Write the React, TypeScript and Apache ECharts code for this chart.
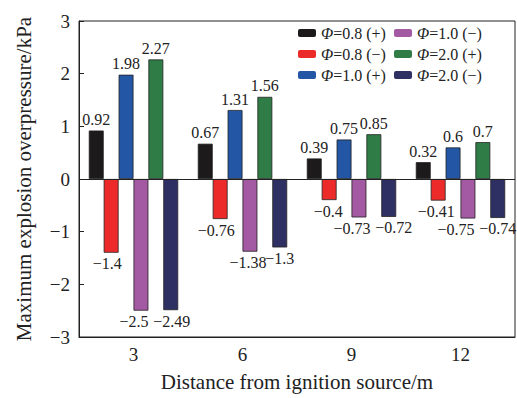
import React, { useEffect, useRef } from "react";
import * as echarts from "echarts";

const categories = ["3", "6", "9", "12"];
const seriesNames = ["Φ=0.8 (+)", "Φ=0.8 (−)", "Φ=1.0 (+)", "Φ=1.0 (−)", "Φ=2.0 (+)", "Φ=2.0 (−)"];
const phi08pos = [0.92, 0.67, 0.39, 0.32];
const phi08neg = [-1.4, -0.76, -0.4, -0.41];
const phi10pos = [1.98, 1.31, 0.75, 0.6];
const phi10neg = [-2.5, -1.38, -0.73, -0.75];
const phi20pos = [2.27, 1.56, 0.85, 0.7];
const phi20neg = [-2.49, -1.3, -0.72, -0.74];
const seriesValues = [phi08pos, phi08neg, phi10pos, phi10neg, phi20pos, phi20neg];
const colors = ["#1c1a1a", "#ec2a2a", "#2456a6", "#a35aa2", "#2f7c46", "#2e3063"];

// horizontal nudges of value labels (px), per series and category, as in the original
const labelNudge = [
  [0, 0, 0, 0],
  [-4, -4, -1, -2],
  [0, 0, 0, 0],
  [-7, -2, -7, -12],
  [0, 0, 0, 0],
  [1, 0, 5, 0],
];

const FONT = "'Liberation Serif', 'Times New Roman', serif";

const fmtNum = (v: number) => (v < 0 ? "\u2212" + String(-v) : String(v));

export default function App() {
  const ref = useRef<HTMLDivElement>(null);
  useEffect(() => {
    document.body.style.margin = "0";
    const chart = echarts.init(ref.current!, null, { renderer: "svg" });
    const series: any[] = seriesNames.map((name, i) => ({
      name,
      type: "bar",
      barGap: "0%",
      barCategoryGap: "18%",
      itemStyle: { color: colors[i], borderColor: "#222", borderWidth: 0.8 },
      label: {
        show: true,
        fontFamily: FONT,
        fontSize: 16,
        color: "#222",
        distance: 3,
        formatter: (p: any) => fmtNum(p.value),
      },
      data: seriesValues[i].map((v, j) => ({
        value: v,
        label: { position: v < 0 ? "bottom" : "top", offset: [labelNudge[i][j], 0] },
      })),
    }));
    series[0].markLine = {
      silent: true,
      symbol: "none",
      label: { show: false },
      lineStyle: { color: "#222", width: 1, type: "solid" },
      data: [{ yAxis: 0 }],
    };
    const legendText = {
      fontFamily: FONT,
      fontSize: 16,
      color: "#222",
      lineHeight: 16,
      rich: { i: { fontFamily: FONT, fontSize: 16, lineHeight: 16, fontStyle: "italic", color: "#222" } },
    };
    const legendFmt = (n: string) => "{i|Φ}" + n.slice(1);
    const legendBase = {
      orient: "vertical",
      top: 25,
      itemWidth: 18,
      itemHeight: 8,
      itemGap: 5,
      padding: 0,
      formatter: legendFmt,
      textStyle: legendText,
      itemStyle: { borderWidth: 0 },
    };
    chart.setOption({
      animation: false,
      backgroundColor: "#fff",
      grid: {
        left: 79,
        right: 2,
        top: 21,
        bottom: 61,
        show: true,
        borderColor: "#222",
        borderWidth: 1,
        backgroundColor: "transparent",
      },
      legend: [
        { ...legendBase, data: seriesNames.slice(0, 3), left: 298 },
        { ...legendBase, data: seriesNames.slice(3), left: 394 },
      ],
      xAxis: {
        type: "category",
        data: categories,
        name: "Distance from ignition source/m",
        nameLocation: "middle",
        nameGap: 34,
        nameTextStyle: { fontFamily: FONT, fontSize: 21, color: "#222" },
        axisLine: { onZero: false, lineStyle: { color: "#222", width: 1 } },
        axisTick: { inside: true, alignWithLabel: true, length: 5, lineStyle: { color: "#222" } },
        axisLabel: { fontFamily: FONT, fontSize: 19, color: "#222", margin: 8 },
      },
      yAxis: {
        type: "value",
        min: -3,
        max: 3,
        interval: 1,
        name: "Maximum explosion overpressure/kPa",
        nameLocation: "middle",
        nameGap: 45,
        nameTextStyle: { fontFamily: FONT, fontSize: 21, color: "#222" },
        axisLine: { show: true, lineStyle: { color: "#222", width: 1 } },
        axisTick: { show: true, inside: true, length: 5, lineStyle: { color: "#222" } },
        splitLine: { show: false },
        axisLabel: {
          fontFamily: FONT,
          fontSize: 19,
          color: "#222",
          margin: 9,
          formatter: (v: number) => fmtNum(v),
        },
      },
      series,
    });
    return () => chart.dispose();
  }, []);
  return (
    <div
      ref={ref}
      style={{ position: "fixed", left: 0, top: 0, width: 517, height: 398 }}
    />
  );
}
